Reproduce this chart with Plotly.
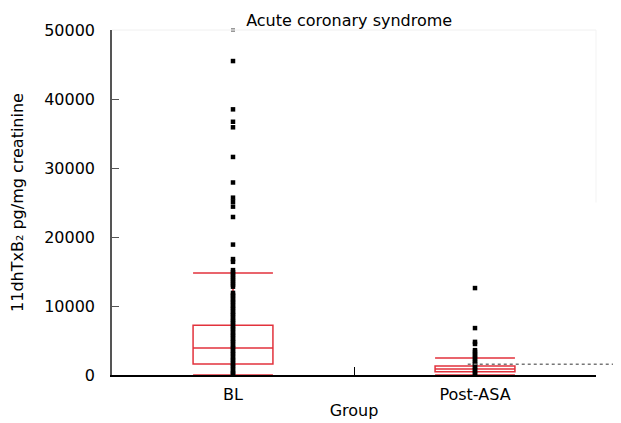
import plotly.graph_objects as go

groups = ["BL", "Post-ASA"]
group_pos = [1, 2]

# box statistics (pg/mg creatinine)
q1 = [1600, 480]
median = [3900, 880]
q3 = [7200, 1300]
lower_fence = [0, 0]
upper_fence = [14800, 2450]

# individual observations
bl_points = [45500, 38500, 36700, 35900, 31600, 27900, 25700, 25100, 24400, 22900,
             18900, 16800, 16400, 15200, 14900, 14600, 14300, 14000, 13700, 13400,
             13100, 12800, 11900, 11600, 11350, 11000, 10700, 10450, 10100, 9800,
             9550, 9200, 8900, 8650, 8300, 8000, 7700, 7450, 7100, 6800, 6550, 6200,
             5900, 5650, 5300, 5000, 4750, 4400, 4100, 3850, 3500, 3200, 2950, 2600,
             2300, 2050, 1700, 1400, 1150, 800, 500, 250, 80]
bl_top_point = [50000]
post_points = [12600, 6800, 4800, 4500, 3600, 3350, 3000, 2750, 2400, 2100, 1800,
               1550, 1200, 900, 650, 300, 80]

reference_level = 1550

yticks = [0, 10000, 20000, 30000, 40000, 50000]

red = "#e2323c"
font = "DejaVu Sans"

fig = go.Figure()
for i in range(2):
    fig.add_trace(go.Box(
        x=[group_pos[i]], q1=[q1[i]], median=[median[i]], q3=[q3[i]],
        lowerfence=[lower_fence[i]], upperfence=[upper_fence[i]],
        width=0.33, whiskerwidth=1, boxpoints=False,
        line=dict(color=red, width=1.5), fillcolor="rgba(0,0,0,0)",
        showlegend=False, hoverinfo="skip"))

fig.add_trace(go.Scatter(x=[group_pos[0]] * len(bl_points), y=bl_points, mode="markers",
                         marker=dict(symbol="square", size=4.5, color="black", line_width=0),
                         showlegend=False))
fig.add_trace(go.Scatter(x=[group_pos[0]], y=bl_top_point, mode="markers",
                         marker=dict(symbol="square", size=4, color="#999999", line_width=0),
                         showlegend=False, cliponaxis=False))
fig.add_trace(go.Scatter(x=[group_pos[1]] * len(post_points), y=post_points, mode="markers",
                         marker=dict(symbol="square", size=4.5, color="black", line_width=0),
                         showlegend=False))

# dotted reference line extending past the plot
fig.add_shape(type="line", xref="paper", yref="y", x0=0.735, x1=1.06,
              y0=reference_level, y1=reference_level,
              line=dict(color="#777777", width=1.5, dash="dot"))
# faint frame top/right
fig.add_shape(type="line", xref="paper", yref="paper", x0=0, x1=1, y0=1, y1=1,
              line=dict(color="#f0f0f0", width=1))
fig.add_shape(type="line", xref="paper", yref="paper", x0=1, x1=1, y0=0.5, y1=1,
              line=dict(color="#f3f3f3", width=1))

fig.update_layout(
    width=613, height=415,
    margin=dict(l=104, r=25, t=22, b=48),
    paper_bgcolor="white", plot_bgcolor="white",
    font=dict(family=font, size=16, color="black"),
    title=dict(text="Acute coronary syndrome", x=0.49, xref="paper",
               y=1 - 12 / 415, yref="container", yanchor="middle", xanchor="center",
               font=dict(size=16)),
    xaxis=dict(range=[0.5, 2.5], tickvals=[1, 1.5, 2], ticktext=["BL", "", "Post-ASA"],
               ticks="inside", ticklen=8, tickcolor="black", showline=True,
               linecolor="black", linewidth=1.5, showgrid=False, zeroline=False,
               ticklabelstandoff=4, automargin=False, layer="above traces",
               title=dict(text="Group", standoff=2, font=dict(size=16))),
    yaxis=dict(range=[0, 50000], tickvals=yticks, tickformat="d", ticks="inside", ticklen=7,
               tickcolor="#555555", showline=True, linecolor="#555555", linewidth=1.5,
               showgrid=False, zeroline=False, ticklabelstandoff=12, automargin=False,
               title=dict(text="11dhTxB₂ pg/mg creatinine", standoff=18, font=dict(size=16))),
)

fig.write_html("out.html")
